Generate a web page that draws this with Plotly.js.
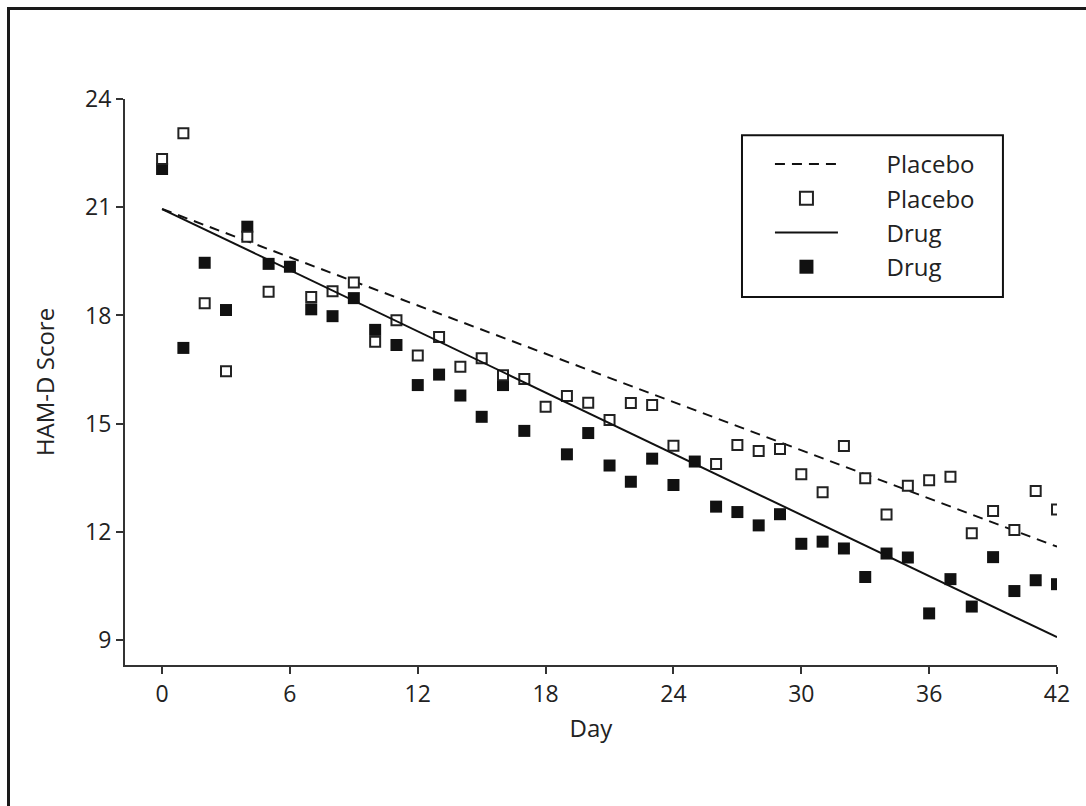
<!DOCTYPE html>
<html>
<head>
<meta charset="utf-8">
<script src="https://cdn.plot.ly/plotly-3.0.1.min.js"></script>
<style>
  html, body { margin: 0; padding: 0; background: #fff; }
  #wrap { position: relative; width: 1086px; height: 806px; }
  #chart { position: absolute; left: 0; top: 0; width: 1086px; height: 806px; }
  #frame { position: absolute; left: 7px; top: 7px; width: 1079px; height: 799px;
           border-left: 3px solid #1a1a1a; border-top: 3px solid #1a1a1a; box-sizing: border-box; pointer-events: none; }
</style>
</head>
<body>
<div id="wrap">
  <div id="chart"></div>
  <div id="frame"></div>
</div>
<script>
// Days 0..42
const days = [0,1,2,3,4,5,6,7,8,9,10,11,12,13,14,15,16,17,18,19,20,21,22,23,24,25,26,27,28,29,30,31,32,33,34,35,36,37,38,39,40,41,42];

// Placebo mean HAM-D scores (open squares)
const placeboScores = [22.34,23.05,18.34,16.45,20.18,18.66,null,18.51,18.67,18.91,17.27,17.87,16.89,17.40,16.58,16.81,16.34,16.24,15.47,15.77,15.58,15.10,15.57,15.52,14.39,null,13.88,14.41,14.24,14.30,13.60,13.10,14.38,13.49,12.48,13.28,13.43,13.53,11.96,12.58,12.05,13.13,12.62];

// Drug mean HAM-D scores (filled squares)
const drugScores = [22.06,17.10,19.46,18.15,20.46,19.43,19.35,18.17,17.98,18.48,17.60,17.18,16.07,16.36,15.78,15.19,16.07,14.80,null,14.15,14.74,13.84,13.39,14.03,13.30,13.95,12.70,12.55,12.18,12.49,11.67,11.73,11.54,10.75,11.40,11.29,9.74,10.69,9.93,11.30,10.36,10.66,10.55];

// Fitted trend lines (endpoints)
const fitDays = [0, 42];
const placeboFit = [20.95, 11.59];
const drugFit = [20.95, 9.08];

const xTicks = [0,6,12,18,24,30,36,42];
const yTicks = [9,12,15,18,21,24];

const legendNames = ['Placebo', 'Placebo', 'Drug', 'Drug'];
const pad = '\u00a0'.repeat(7);

const FONT = '"Open Sans", Lato, sans-serif';
const INK = '#222';

const traces = [
  { x: fitDays, y: placeboFit, name: pad + legendNames[0], mode: 'lines', legendgroup: 'a',
    line: { color: '#111', width: 2, dash: '10px,7px' } },
  { x: days, y: drugScores, name: legendNames[3], mode: 'markers', showlegend: false,
    marker: { symbol: 'square', size: 12, color: '#111', line: { color: '#111', width: 0 } } },
  { x: days, y: placeboScores, name: legendNames[1], mode: 'markers', showlegend: false,
    marker: { symbol: 'square', size: 10, color: '#fff', line: { color: '#222', width: 2 } } },
  { x: [null], y: [null], name: pad + legendNames[1], mode: 'markers', legendgroup: 'b',
    marker: { symbol: 'square', size: 13, color: '#fff', line: { color: '#222', width: 2 } } },
  { x: fitDays, y: drugFit, name: pad + legendNames[2], mode: 'lines', legendgroup: 'c',
    line: { color: '#111', width: 2 } },
  { x: [null], y: [null], name: pad + legendNames[3], mode: 'markers', legendgroup: 'd',
    marker: { symbol: 'square', size: 14, color: '#111' } }
];

const layout = {
  width: 1086, height: 806,
  paper_bgcolor: '#fff', plot_bgcolor: '#fff',
  margin: { l: 125, r: 29, t: 99, b: 141 },
  font: { family: FONT, size: 22, color: INK },
  showlegend: true,
  legend: {
    x: 0.692, y: 0.924, xanchor: 'left', yanchor: 'top',
    borderwidth: 0, bgcolor: 'rgba(0,0,0,0)',
    font: { family: FONT, size: 24, color: INK },
    itemwidth: 63, tracegroupgap: 10, traceorder: 'normal'
  },
  shapes: [
    { type: 'rect', xref: 'paper', yref: 'paper', x0: 0.662, x1: 0.942, y0: 0.650, y1: 0.936,
      line: { color: '#111', width: 2 }, fillcolor: 'rgba(0,0,0,0)', layer: 'above' }
  ],
  xaxis: {
    range: [-1.74, 42], tickvals: xTicks, ticktext: xTicks.map(String),
    showgrid: false, zeroline: false, showline: true, linecolor: '#333', linewidth: 2,
    ticks: 'outside', ticklen: 7, tickwidth: 2, tickcolor: '#333',
    tickfont: { family: FONT, size: 23, color: INK },
    title: { text: 'Day', font: { family: FONT, size: 24, color: INK }, standoff: 13 }
  },
  yaxis: {
    range: [8.31, 24], tickvals: yTicks, ticktext: yTicks.map(String),
    showgrid: false, zeroline: false, showline: true, linecolor: '#333', linewidth: 2,
    ticks: 'outside', ticklen: 7, tickwidth: 2, tickcolor: '#333',
    tickfont: { family: FONT, size: 23, color: INK },
    title: { text: 'HAM-D Score', font: { family: FONT, size: 24, color: INK }, standoff: 24 }
  }
};

Plotly.newPlot('chart', traces, layout, { displayModeBar: false, staticPlot: true });
</script>
</body>
</html>
